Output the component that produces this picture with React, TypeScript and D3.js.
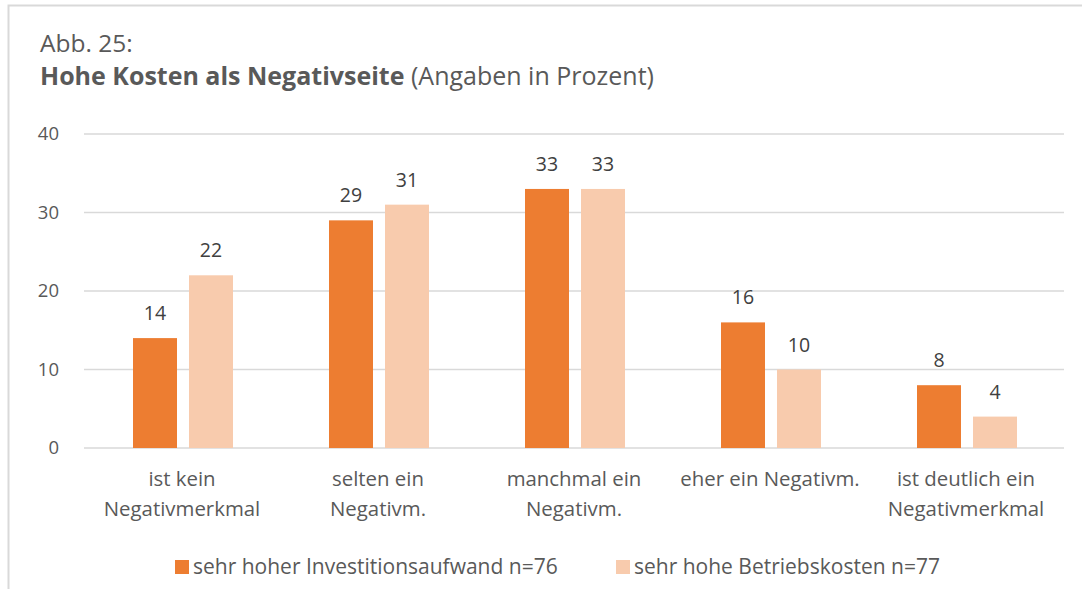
import React, { useEffect, useRef } from "react";
import * as d3 from "d3";

const categories = [
  ["ist kein", "Negativmerkmal"],
  ["selten ein", "Negativm."],
  ["manchmal ein", "Negativm."],
  ["eher ein Negativm."],
  ["ist deutlich ein", "Negativmerkmal"],
];
const investValues = [14, 29, 33, 16, 8];
const betriebValues = [22, 31, 33, 10, 4];
const seriesNames = ["sehr hoher Investitionsaufwand n=76", "sehr hohe Betriebskosten n=77"];
const colors = ["#ED7D31", "#F8CBAD"];
const yTicks = [0, 10, 20, 30, 40];

const FONT = "'Open Sans', sans-serif";

const App = () => {
  const ref = useRef<SVGSVGElement>(null);

  useEffect(() => {
    const svg = d3.select(ref.current);
    svg.selectAll("*").remove();

    const width = 1082;
    const height = 589;

    // frame
    svg.append("rect")
      .attr("x", 8.5).attr("y", 5.5)
      .attr("width", 1200).attr("height", 700)
      .attr("fill", "#fff").attr("stroke", "#D9D9D9").attr("stroke-width", 2);

    // title
    svg.append("text")
      .attr("x", 40).attr("y", 52)
      .attr("font-family", FONT).attr("font-size", 24.5).attr("fill", "#595959")
      .text("Abb. 25:");
    const t2 = svg.append("text")
      .attr("x", 40).attr("y", 85)
      .attr("font-family", FONT).attr("font-size", 25).attr("fill", "#595959");
    t2.append("tspan").attr("font-weight", "bold").text("Hohe Kosten als Negativseite");
    t2.append("tspan").text(" (Angaben in Prozent)");

    const x0 = d3.scaleBand<number>()
      .domain(d3.range(categories.length))
      .range([84, 1064]);
    const y = d3.scaleLinear().domain([0, 40]).range([448, 134]);

    const g = svg.append("g");

    // gridlines
    g.selectAll("line.grid")
      .data(yTicks)
      .join("line")
      .attr("x1", 84).attr("x2", 1064)
      .attr("y1", d => y(d)).attr("y2", d => y(d))
      .attr("stroke", "#D9D9D9").attr("stroke-width", 1.5);

    g.selectAll("text.ytick")
      .data(yTicks)
      .join("text")
      .attr("x", 59).attr("y", d => y(d))
      .attr("dy", "0.35em")
      .attr("text-anchor", "end")
      .attr("font-family", FONT).attr("font-size", 18.5).attr("fill", "#595959")
      .text(d => d);

    const barW = 44;
    const gap = 12;
    const series = [investValues, betriebValues];

    series.forEach((vals, si) => {
      const offset = si === 0 ? -(gap / 2 + barW) : gap / 2;
      g.append("g")
        .selectAll("rect")
        .data(vals)
        .join("rect")
        .attr("x", (d, i) => x0(i)! + x0.bandwidth() / 2 + offset + 1)
        .attr("y", d => y(d))
        .attr("width", barW)
        .attr("height", d => y(0) - y(d))
        .attr("fill", colors[si]);

      g.append("g")
        .selectAll("text")
        .data(vals)
        .join("text")
        .attr("x", (d, i) => x0(i)! + x0.bandwidth() / 2 + offset + 1 + barW / 2)
        .attr("y", d => y(d) - 18)
        .attr("text-anchor", "middle")
        .attr("font-family", FONT).attr("font-size", 19.5).attr("fill", "#404040")
        .text(d => d);
    });

    // category labels
    categories.forEach((lines, i) => {
      const t = g.append("text")
        .attr("text-anchor", "middle")
        .attr("font-family", FONT).attr("font-size", 20.4).attr("fill", "#595959");
      lines.forEach((ln, li) => {
        t.append("tspan")
          .attr("x", x0(i)! + x0.bandwidth() / 2)
          .attr("y", 486 + li * 30)
          .text(ln);
      });
    });

    // legend
    const legendX = [175, 616];
    seriesNames.forEach((name, si) => {
      svg.append("rect")
        .attr("x", legendX[si]).attr("y", 560)
        .attr("width", 14).attr("height", 14)
        .attr("fill", colors[si]);
      svg.append("text")
        .attr("x", legendX[si] + 18).attr("y", 574)
        .attr("font-family", FONT).attr("font-size", 21).attr("fill", "#595959")
        .text(name);
    });

    svg.attr("viewBox", `0 0 ${width} ${height}`);
  }, []);

  return (
    <svg
      ref={ref}
      width={1082}
      height={589}
      style={{ position: "absolute", left: 0, top: 0, display: "block" }}
    />
  );
};

export default App;
